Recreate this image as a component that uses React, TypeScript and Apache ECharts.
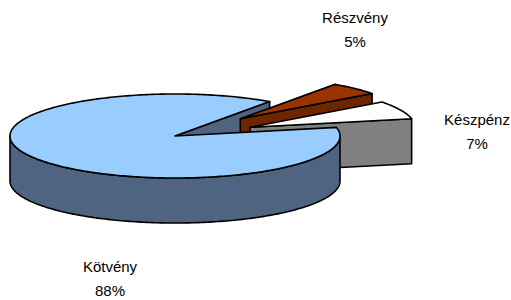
import React, { useEffect, useRef } from "react";
import * as echarts from "echarts";

const categories = ["Kötvény", "Részvény", "Készpénz"];
const values = [88, 5, 7];

// styling / layout (not data)
const topColors = ["#99CCFF", "#993300", "#FFFFFF"];
const sideColors = ["#4F6480", "#6E2600", "#808080"];
const explode = [0, 0.57, 0.5];
const labelAnchors = [
  [110, 278],
  [355, 29],
  [477, 131],
];
const START = 371.8; // degrees, slices go clockwise
const CX = 175;
const CY = 136;
const RX = 165;
const RY = 42;
const DEPTH = 45;

const total = values.reduce((a, b) => a + b, 0);
const spans: { a0: number; a1: number }[] = [];
{
  let cum = 0;
  for (const v of values) {
    const sweep = (v / total) * 360;
    const a1 = START - cum;
    spans.push({ a0: a1 - sweep, a1 });
    cum += sweep;
  }
}

const rad = (d: number) => (d * Math.PI) / 180;

function renderItem(params: any, api: any) {
  const i = params.dataIndex;
  const { a0, a1 } = spans[i];
  const m = (a0 + a1) / 2;
  const e = explode[i];
  const ox = CX + e * RX * Math.cos(rad(m));
  const oy = CY - e * RY * Math.sin(rad(m));
  const pt = (a: number, dz = 0) => [ox + RX * Math.cos(rad(a)), oy - RY * Math.sin(rad(a)) + dz];
  const arc = (s: number, t: number, dz = 0) => {
    const pts: number[][] = [];
    const n = Math.max(2, Math.ceil(Math.abs(t - s) / 1));
    for (let k = 0; k <= n; k++) pts.push(pt(s + ((t - s) * k) / n, dz));
    return pts;
  };
  const stroke = { stroke: "#000", lineWidth: 1.6, lineJoin: "round" };
  const children: any[] = [];
  const main = e === 0;
  const zFace = main ? 1 : 2 + oy / 100;
  const zWall = main ? 10 : zFace + 0.001;
  const zTop = main ? 11 : zFace + 0.002;

  // radial faces
  const faceAt = (a: number) => [[ox, oy], pt(a), pt(a, DEPTH), [ox, oy + DEPTH]];
  if (Math.cos(rad(a0)) > 0) {
    children.push({ type: "polygon", z2: zFace, shape: { points: faceAt(a0) }, style: { fill: sideColors[i], ...stroke } });
  }
  if (Math.cos(rad(a1)) < 0) {
    children.push({ type: "polygon", z2: zFace, shape: { points: faceAt(a1) }, style: { fill: sideColors[i], ...stroke } });
  }
  // front outer wall
  for (const [fs, fe] of [[-180, 0], [180, 360], [540, 720]]) {
    const s = Math.max(a0, fs);
    const t = Math.min(a1, fe);
    if (t > s) {
      const top = arc(s, t);
      const bot = arc(s, t, DEPTH).reverse();
      children.push({ type: "polygon", z2: zWall, shape: { points: top.concat(bot) }, style: { fill: sideColors[i], ...stroke } });
    }
  }
  // top face
  children.push({
    type: "polygon",
    z2: zTop,
    shape: { points: [[ox, oy]].concat(arc(a0, a1)) },
    style: { fill: topColors[i], ...stroke },
  });
  // label
  const pct = Math.round((api.value(0) / total) * 100);
  children.push({
    type: "text",
    z2: 50,
    x: labelAnchors[i][0],
    y: labelAnchors[i][1],
    style: {
      text: categories[i] + "\n" + pct + "%",
      fill: "#000",
      font: "15px 'Liberation Sans', Arial, sans-serif",
      fontSize: 15,
      fontFamily: "Liberation Sans",
      lineHeight: 24,
      align: "center",
      verticalAlign: "middle",
    },
  });
  return { type: "group", children };
}

export default function App() {
  const ref = useRef<HTMLDivElement>(null);
  useEffect(() => {
    if (!ref.current) return;
    const chart = echarts.init(ref.current, null, { renderer: "svg" });
    chart.setOption({
      animation: false,
      backgroundColor: "#fff",
      series: [
        {
          type: "custom",
          coordinateSystem: "none",
          renderItem,
          data: values.map((v) => [v]),
        },
      ],
    });
    return () => chart.dispose();
  }, []);
  return <div ref={ref} style={{ position: "fixed", left: 0, top: 0, width: 511, height: 300 }} />;
}
